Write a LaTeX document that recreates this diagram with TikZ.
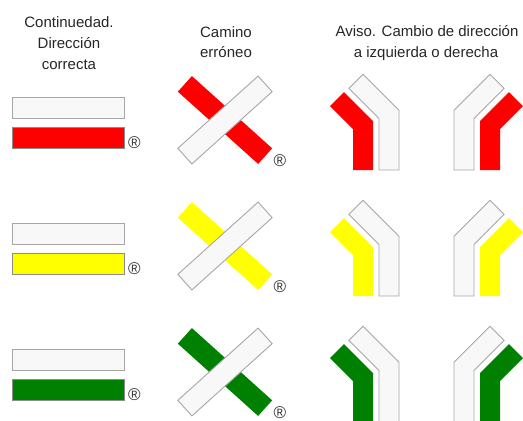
\documentclass[tikz,border=0pt]{standalone}
\usepackage{fontspec}
\setmainfont{Liberation Sans}
\definecolor{signred}{RGB}{255,0,0}
\definecolor{signyellow}{RGB}{255,255,0}
\definecolor{signgreen}{RGB}{0,128,0}
\definecolor{signwhite}{RGB}{248,248,248}

\begin{document}
\begin{tikzpicture}[x=1pt, y=-1pt]
        \tikzstyle{heading}=[font=\fontsize{15}{21}\selectfont, text=black!85, inner sep=0pt, anchor=base]
        \tikzstyle{whitebar}=[fill=signwhite, draw=black!35, line width=0.9pt]
        \tikzstyle{regmark}=[font=\fontsize{17}{17}\selectfont, text=black!80, inner sep=0pt]
        \useasboundingbox (0,0) rectangle (523,421);
        % headings
        \node [heading] (cont1) at (69,27) {Continuedad.};
        \node [heading] (cont2) at (69,48.5) {Dirección};
        \node [heading] (cont3) at (69,69) {correcta};
        \node [heading] (wrong1) at (226,37.5) {Camino};
        \node [heading] (wrong2) at (226,57.5) {erróneo};
        \node [heading] (turn1) at (427,36.5) {Aviso. Cambio de dirección};
        \node [heading] (turn2) at (426,57) {a izquierda o derecha};
        % one row per colour
        \foreach \col/\row in {signred/0, signyellow/1, signgreen/2} {
          \begin{scope}[shift={(0,\row*126)}]
            \filldraw [whitebar] (12,97) rectangle (124,118);
            \filldraw [fill=\col, draw=black!45, line width=0.9pt] (12,127) rectangle (124,148);
            \node [regmark] (okreg\row) at (134.5,142.5) {\textregistered};
            \fill [\col, rotate around={-42:(225,120)}] (171,109.5) rectangle (279,130.5);
            \filldraw [whitebar, rotate around={42:(225,120)}] (171,109.5) rectangle (279,130.5);
            \node [regmark] (crossreg\row) at (280,160.5) {\textregistered};
            \foreach \flip/\sh in {1/0, -1/853} {
              \begin{scope}[shift={(\sh,0)}, xscale=\flip]
                \fill [\col] (353,170) -- (373,170) -- (373,121) -- (344,92)
                  -- (329.9,106.1) -- (353,129.2) -- cycle;
                \filldraw [whitebar] (379,170) -- (399,170) -- (399,110.2) -- (363,74.2)
                  -- (348.9,88.3) -- (379,118.4) -- cycle;
              \end{scope}
            }
          \end{scope}
        }
\end{tikzpicture}
\end{document}
